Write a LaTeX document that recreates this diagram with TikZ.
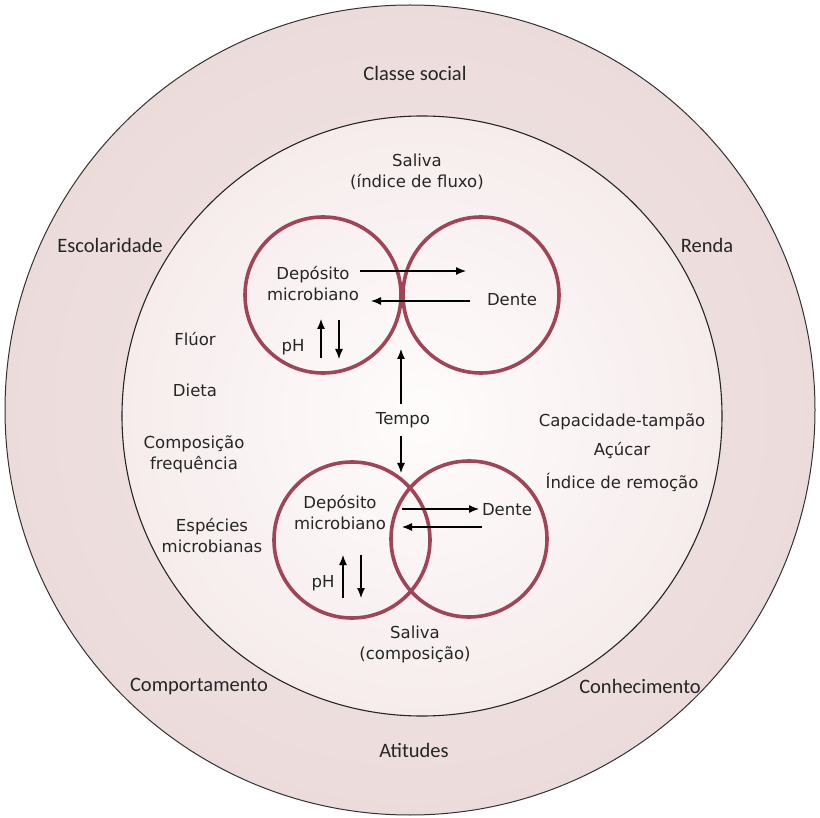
\documentclass[tikz,border=0pt]{standalone}
\usepackage{fontspec}
\setmainfont{DejaVu Sans}
\newfontfamily\clfont{Carlito}
\usetikzlibrary{arrows.meta}
\definecolor{ringA}{HTML}{F2E6E6}
\definecolor{ringB}{HTML}{E9D6D6}
\definecolor{ringC}{HTML}{D5B5B6}
\definecolor{inA}{HTML}{FFFCFC}
\definecolor{inB}{HTML}{F6ECEC}
\definecolor{inC}{HTML}{E4CBCC}
\definecolor{maroon}{HTML}{A14458}
\definecolor{txt}{HTML}{262626}
\pgfdeclareradialshading{outershade}{\pgfpoint{0bp}{0bp}}{color(0bp)=(ringA); color(37bp)=(ringB); color(50bp)=(ringC)}
\pgfdeclareradialshading{innershade}{\pgfpoint{0bp}{0bp}}{color(0bp)=(inA); color(25bp)=(inB); color(50bp)=(inC)}
\tikzset{
  lbl/.style={text=txt, align=center, inner sep=0pt, font=\fontsize{16.5}{21}\selectfont},
  olbl/.style={text=txt, align=center, inner sep=0pt, font=\clfont\fontsize{20.5}{22}\selectfont},
  smallcirc/.style={circle, draw=maroon, line width=3.6pt, minimum size=156pt, inner sep=0pt},
  arr/.style={-{Latex[length=10pt,width=8pt]}, line width=1.2pt, black},
}
\begin{document}
\begin{tikzpicture}[x=1pt,y=-1pt]
\useasboundingbox[fill=white] (0,0) rectangle (820,818);
% outer and inner circles
\shade[shading=outershade] (410,410) circle[radius=405pt];
\draw[line width=1pt, black!80] (410,410) circle[radius=405pt];
\shade[shading=innershade] (422,416) circle[radius=300pt];
\draw[line width=1.1pt, black!85] (422,416) circle[radius=300pt];
% small circles
\node[smallcirc] (ul) at (323,295) {};
\node[smallcirc] (ur) at (481,295) {};
\node[smallcirc] (ll) at (352,540) {};
\node[smallcirc] (lr) at (469,539) {};
% outer labels
\node[olbl] (classe) at (415,73) {Classe social};
\node[olbl] (escol) at (110,245) {Escolaridade};
\node[olbl] (renda) at (707,245) {Renda};
\node[olbl] (comport) at (199,686) {Comportamento};
\node[olbl] (conhec) at (640,686) {Conhecimento};
\node[olbl] (atit) at (414,750) {Atitudes};
% inner labels
\node[lbl] (salf) at (417,172) {Saliva\\(índice de fluxo)};
\node[lbl] (fluor) at (195,339) {Flúor};
\node[lbl] (dieta) at (195,390) {Dieta};
\node[lbl] (compf) at (194,454) {Composição\\frequência};
\node[lbl] (espec) at (212,536) {Espécies\\microbianas};
\node[lbl] (capt) at (622,422) {Capacidade-tampão};
\node[lbl] (acuc) at (622,450) {Açúcar};
\node[lbl] (indr) at (622,482) {Índice de remoção};
\node[lbl] (salc) at (415,644) {Saliva\\(composição)};
\node[lbl] (tempo) at (403,420) {Tempo};
% upper pair labels
\node[lbl] (dep1) at (313,284) {Depósito\\microbiano};
\node[lbl] (den1) at (512,300) {Dente};
\node[lbl] (ph1) at (293,347) {pH};
% lower pair labels
\node[lbl] (dep2) at (340,513) {Depósito\\microbiano};
\node[lbl] (den2) at (507,510) {Dente};
\node[lbl] (ph2) at (323,583) {pH};
% arrow endpoints
\coordinate (a1s) at (360,271); \coordinate (a1e) at (466,271);
\coordinate (a2s) at (470,301); \coordinate (a2e) at (371,301);
\coordinate (p1s) at (321,358); \coordinate (p1e) at (321,319);
\coordinate (p2s) at (339,320); \coordinate (p2e) at (339,359);
\coordinate (t1e) at (401,349); \coordinate (t2e) at (401,473);
\coordinate (b1s) at (402,509); \coordinate (b1e) at (479,509);
\coordinate (b2s) at (482,527); \coordinate (b2e) at (402,527);
\coordinate (q1s) at (343,598); \coordinate (q1e) at (343,555);
\coordinate (q2s) at (361,555); \coordinate (q2e) at (361,598);
\draw[arr] (a1s) -- (a1e);
\draw[arr] (a2s) -- (a2e);
\draw[arr] (p1s) -- (p1e);
\draw[arr] (p2s) -- (p2e);
\draw[arr] (tempo.north -| t1e) ++(0,-8) -- (t1e);
\draw[arr] (tempo.south -| t2e) ++(0,8) -- (t2e);
\draw[arr] (b1s) -- (b1e);
\draw[arr] (b2s) -- (b2e);
\draw[arr] (q1s) -- (q1e);
\draw[arr] (q2s) -- (q2e);
\end{tikzpicture}
\end{document}
